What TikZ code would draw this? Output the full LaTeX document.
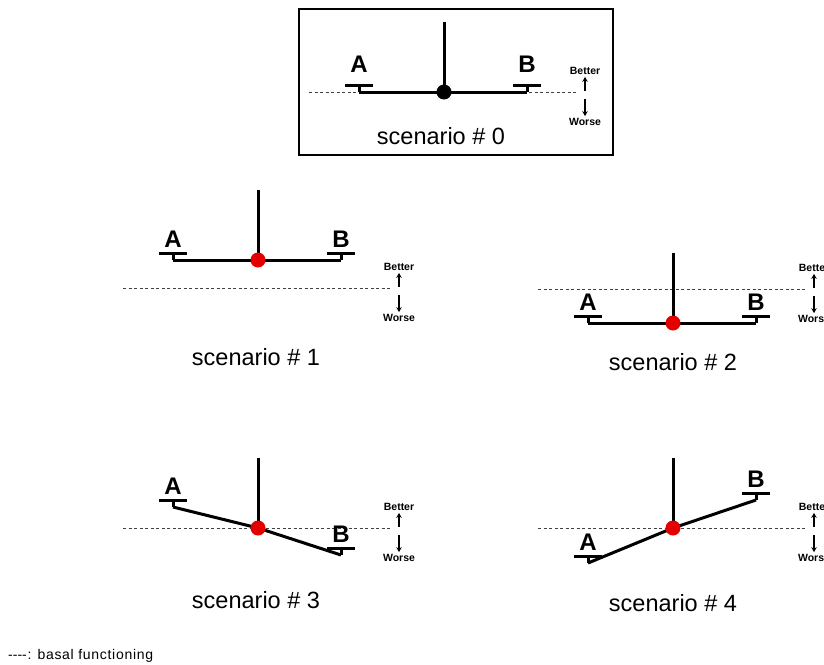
\documentclass[tikz,border=0pt]{standalone}
\usepackage{fontspec}
\setmainfont{Liberation Sans}
\usetikzlibrary{calc,arrows.meta}
\tikzset{x=1pt, y=-1pt,
  beam/.style={line width=3pt},
  basal/.style={draw=black!75, line width=0.7pt, dash pattern=on 3pt off 2.5pt},
  pivot/.style={circle, inner sep=0pt, minimum size=15pt},
  end label/.style={anchor=south, inner sep=0pt, font=\bfseries\fontsize{24}{24}\selectfont},
  scale label/.style={inner sep=1pt, font=\bfseries\fontsize{10.5}{10.5}\selectfont},
  scale arrow/.style={line width=1.2pt, -{Stealth[length=5pt,width=5.5pt]}, shorten <=0pt, shorten >=1pt},
  caption/.style={font=\fontsize{23.5}{23.5}\selectfont},
  frame/.style={draw=black, line width=2.2pt}
}
\def\Pan#1#2#3#4{% name, end point, letter, label gap
  \coordinate (#1top) at ($(#2)+(0,-7)$);
  \draw[beam] (#2) -- (#1top);
  \draw[beam] ($(#1top)+(-14,0)$) -- ($(#1top)+(14,0)$);
  \node[end label] (#1lbl) at ($(#1top)+(0,-#4)$) {#3};
}
\def\Balance#1#2#3#4#5#6#7#8{% tag, cx, cy, A y, B y, basal y, dot colour, label gap
  \coordinate (#1p) at (#2,#3);
  \coordinate (#1a) at (#2-85,#4);
  \coordinate (#1b) at (#2+83,#5);
  \coordinate (#1l) at (#2-135,#6);
  \coordinate (#1r) at (#2+134,#6);
  \coordinate (#1m) at (#2+141,#6+3);
  \draw[basal] (#1l) -- (#1r);
  \draw[beam] (#1p) -- ++(0,-70);
  \draw[beam, line join=round] (#1a) -- (#1p) -- (#1b);
  \Pan{#1A}{#1a}{A}{#8}
  \Pan{#1B}{#1b}{B}{#8}
  \node[pivot, fill=#7] (#1dot) at (#1p) {};
  \node[scale label] (#1better) at ($(#1r)+(7,-21)$) {Better};
  \node[scale label] (#1worse) at ($(#1r)+(7,30)$) {Worse};
  \draw[scale arrow] ($(#1m)+(0,-4)$) -- (#1better);
  \draw[scale arrow] ($(#1m)+(0,4)$) -- (#1worse);
}

\begin{document}
\begin{tikzpicture}
\useasboundingbox (0,0) rectangle (824,664);
\draw[frame] (299,9) rectangle (613,155);
\Balance{s0}{444}{92}{92}{92}{92}{black}{12}
\node[caption] (cap0) at (441,136) {scenario \# 0};
\Balance{s1}{258}{260}{260}{260}{288}{red!90!black}{5}
\node[caption] (cap1) at (256,357) {scenario \# 1};
\Balance{s2}{673}{323}{323}{323}{289}{red!90!black}{5}
\node[caption] (cap2) at (673,362) {scenario \# 2};
\Balance{s3}{258}{528}{507}{555}{528}{red!90!black}{5}
\node[caption] (cap3) at (256,600) {scenario \# 3};
\Balance{s4}{673}{528}{563}{500}{528}{red!90!black}{5}
\node[caption] (cap4) at (673,603) {scenario \# 4};
% legend
\node[anchor=west, inner sep=0pt, font=\fontsize{14}{14}\selectfont\addfontfeature{LetterSpace=5}] (note) at (8,656)
  {-\kern0pt-\kern0pt-\kern0pt-: basal functioning};
\end{tikzpicture}
\end{document}
